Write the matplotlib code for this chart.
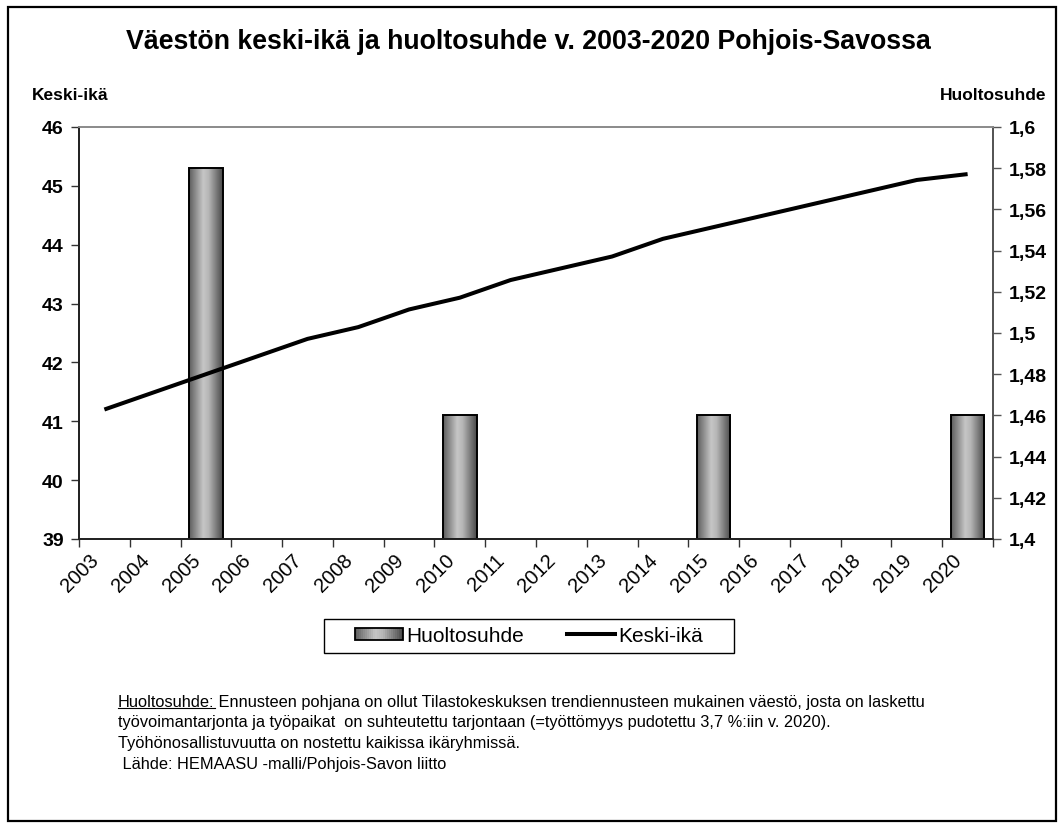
# Väestön keski-ikä ja huoltosuhde, Pohjois-Savo 2003-2020
import numpy as np
import matplotlib
matplotlib.use("Agg")
import matplotlib.pyplot as plt
from matplotlib.colors import LinearSegmentedColormap
from matplotlib.patches import Rectangle
from matplotlib.lines import Line2D
from matplotlib.legend_handler import HandlerBase

# ==== DATA ====
years = [str(y) for y in range(2003, 2021)]
keski_ika = [41.2, 41.5, 41.8, 42.1, 42.4, 42.6, 42.9, 43.1, 43.4,
             43.6, 43.8, 44.1, 44.3, 44.5, 44.7, 44.9, 45.1, 45.2]
huolto_years = ["2005", "2010", "2015", "2020"]
huoltosuhde = [1.58, 1.46, 1.46, 1.46]

left_ticks = [39, 40, 41, 42, 43, 44, 45, 46]
right_ticks = [1.40, 1.42, 1.44, 1.46, 1.48, 1.50, 1.52, 1.54, 1.56, 1.58, 1.60]

title = "Väestön keski-ikä ja huoltosuhde v. 2003-2020 Pohjois-Savossa"
note_head = "Huoltosuhde:"
note_lines = [
    " Ennusteen pohjana on ollut Tilastokeskuksen trendiennusteen mukainen väestö, josta on laskettu",
    "työvoimantarjonta ja työpaikat  on suhteutettu tarjontaan (=työttömyys pudotettu 3,7 %:iin v. 2020).",
    "Työhönosallistuvuutta on nostettu kaikissa ikäryhmissä.",
    " Lähde: HEMAASU -malli/Pohjois-Savon liitto",
]

plt.rcParams["font.family"] = ["Liberation Sans", "DejaVu Sans"]

# gray cylinder-like shading used by Excel
bar_cmap = LinearSegmentedColormap.from_list(
    "cyl", [(0.0, "#5c5c5c"), (0.42, "#c6c6c6"), (0.58, "#b6b6b6"), (1.0, "#484848")])


def fmt_fi(v):
    s = f"{v:.2f}".rstrip("0").rstrip(".")
    return s.replace(".", ",")


class GradientHandler(HandlerBase):
    def create_artists(self, legend, orig_handle, xdescent, ydescent,
                       width, height, fontsize, trans):
        n = 24
        arts = []
        for k in range(n):
            arts.append(Rectangle((-xdescent + width * k / n, -ydescent + 1), width / n + 0.3,
                                  height - 2, facecolor=bar_cmap((k + 0.5) / n),
                                  edgecolor="none", transform=trans))
        arts.append(Rectangle((-xdescent, -ydescent + 1), width, height - 2,
                              facecolor="none", edgecolor="black", lw=1.3, transform=trans))
        return arts


fig = plt.figure(figsize=(10.64, 8.29), dpi=100)
W, H = 1064, 829
ax = fig.add_axes([79 / W, 1 - 540 / H, (993 - 79) / W, (540 - 128) / H])
ax2 = ax.twinx()
ax.set_zorder(ax2.get_zorder() + 1)
ax.patch.set_visible(False)

x = np.arange(len(years))
r_min, r_max = 1.4, 1.6

# ==== BARS (right axis) ====
bx = [years.index(y) for y in huolto_years]
bar_h = [v - r_min for v in huoltosuhde]
bars = ax2.bar(bx, bar_h, width=0.66, bottom=r_min, facecolor="none",
               edgecolor="black", linewidth=1.4, zorder=3)
grad = np.linspace(0, 1, 256).reshape(1, -1)
for b in bars:
    x0 = b.get_x()
    im = ax2.imshow(grad, cmap=bar_cmap, aspect="auto", zorder=2,
                    extent=[x0, x0 + b.get_width(), r_min, r_min + b.get_height()])
    im.set_clip_path(b)

# ==== LINE (left axis) ====
ax.plot(x, keski_ika, color="black", lw=2.9, solid_capstyle="butt", zorder=4)

ax.set_xlim(-0.5, len(years) - 0.5)
ax2.set_xlim(-0.5, len(years) - 0.5)
ax.set_ylim(39, 46)
ax2.set_ylim(r_min, r_max)

ax.set_yticks(left_ticks)
ax.set_yticklabels([str(t) for t in left_ticks], fontsize=14, fontweight="bold")
ax2.set_yticks(right_ticks)
ax2.set_yticklabels([fmt_fi(t) for t in right_ticks], fontsize=14, fontweight="bold")

ax.set_xticks(np.arange(len(years) + 1) - 0.5)
ax.set_xticklabels([])
ax.set_xticks(x - 0.17, minor=True)
ax.set_xticklabels(years, minor=True, rotation=45, ha="right", va="center",
                   rotation_mode="anchor", fontsize=14.5)
ax.tick_params(axis="x", which="minor", length=0, pad=13)
ax.tick_params(axis="x", which="major", length=6, width=1, color="#333333")
ax.tick_params(axis="y", length=6, width=1, color="#333333", pad=5)
ax2.tick_params(axis="y", length=6, width=1, color="#555555", pad=5)
ax2.tick_params(axis="x", which="both", bottom=False, labelbottom=False)

for a in (ax, ax2):
    a.spines["top"].set_color("#8c8c8c")
    a.spines["left"].set_color("#222222")
    a.spines["bottom"].set_color("#222222")
    a.spines["right"].set_color("#555555")
    for s in a.spines.values():
        s.set_linewidth(1.3)

# ==== TEXTS ====
fig.text(528 / W, 1 - 42 / H, title, ha="center", va="center",
         fontsize=19.3, fontweight="bold")
fig.text(32 / W, 1 - 95 / H, "Keski-ikä", ha="left", va="center",
         fontsize=12.5, fontweight="bold")
fig.text(1046 / W, 1 - 95 / H, "Huoltosuhde", ha="right", va="center",
         fontsize=12.5, fontweight="bold")

# legend (frame drawn separately so it can be wider than tall)
h_bar = Rectangle((0, 0), 1, 1)
h_line = Line2D([0], [0], color="black", lw=2.9)
leg = fig.legend([h_bar, h_line], ["Huoltosuhde", "Keski-ikä"],
                 handler_map={Rectangle: GradientHandler()},
                 loc="center", bbox_to_anchor=(529 / W, 1 - 637 / H), ncol=2,
                 fontsize=15, frameon=False, handlelength=2.3,
                 handletextpad=0.15, columnspacing=2.1, borderpad=0.3)
fig.add_artist(Rectangle((324 / W, 1 - 654 / H), (734 - 324) / W, 34 / H,
                         transform=fig.transFigure, facecolor="white",
                         edgecolor="black", lw=1.0, zorder=0))

# footnote with underlined head
fsz = 11.8
fig.canvas.draw()
rend = fig.canvas.get_renderer()
t_head = fig.text(118 / W, 1 - 703 / H, note_head, ha="left", va="center", fontsize=fsz)
bb = t_head.get_window_extent(rend)
fig.add_artist(Line2D([bb.x0 / W, bb.x1 / W], [(bb.y0 + 1.5) / H, (bb.y0 + 1.5) / H],
                      transform=fig.transFigure, color="black", lw=0.8))
fig.text(bb.x1 / W, 1 - 703 / H, note_lines[0], ha="left", va="center", fontsize=fsz)
for i, y in enumerate([723, 744, 765]):
    fig.text(118 / W, 1 - y / H, note_lines[i + 1], ha="left", va="center", fontsize=fsz)

# outer frame
fig.add_artist(Rectangle((8 / W, 7 / H), (1056 - 8) / W, (822 - 8) / H,
                         transform=fig.transFigure, facecolor="none",
                         edgecolor="black", lw=1.6))

fig.savefig("out.png", dpi=100)
